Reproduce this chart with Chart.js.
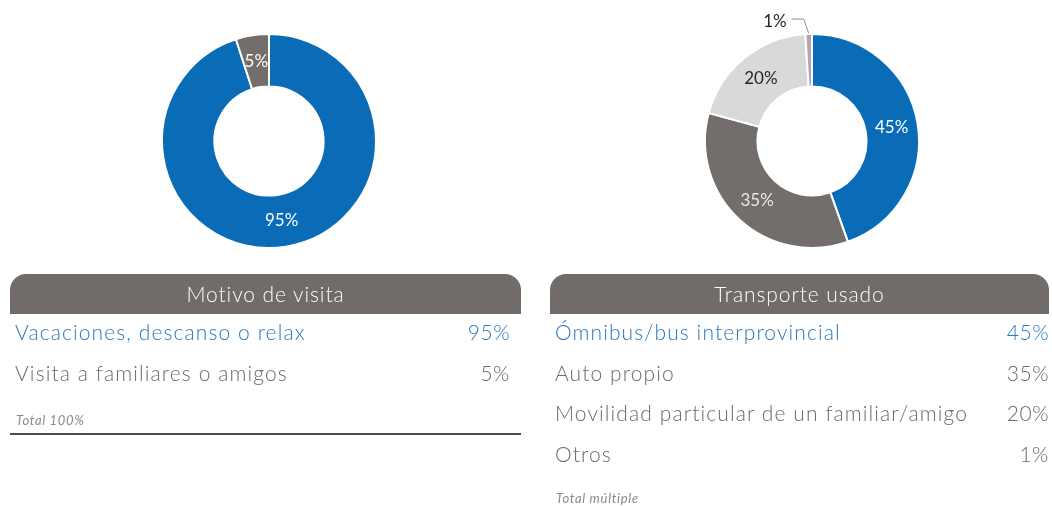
<!DOCTYPE html>
<html lang="es">
<head>
<meta charset="utf-8">
<title>Motivo de visita y transporte usado</title>
<script src="https://cdn.jsdelivr.net/npm/chart.js@4/dist/chart.umd.min.js"></script>
<style>
  html, body { margin: 0; padding: 0; background: #fff; }
  body { width: 1052px; height: 506px; position: relative; overflow: hidden; font-family: Lato, "Open Sans", sans-serif; }
  .donut { position: absolute; top: 0; width: 300px; height: 282px; }
  .panel { position: absolute; top: 274px; }
  .head {
    height: 40px; line-height: 40px; background: #716b69; color: #fff;
    border-radius: 16px 16px 0 0; text-align: center; font-size: 21px; font-weight: 300;
    letter-spacing: 0.9px;
  }
  .row { position: relative; height: 40.5px; line-height: 36px; font-size: 21px; font-weight: 300; color: #6a6a6a; letter-spacing: 1.1px; }
  .row .pct { position: absolute; right: 0; top: 0; letter-spacing: 0.5px; }
  .row.first { color: #2a78bb; }
  .row .name { position: absolute; left: 5px; top: 0; }
  .total { font-size: 13px; font-style: italic; color: #8a8a8a; padding-left: 6px; letter-spacing: 0.7px; }
</style>
</head>
<body>
<div class="donut" style="left:119px"><canvas id="motivoChart"></canvas></div>
<div class="donut" style="left:662px"><canvas id="transporteChart"></canvas></div>

<div class="panel" id="motivoPanel" style="left:10px;width:511px"></div>
<div class="panel" id="transportePanel" style="left:550px;width:499px"></div>

<script>
const motivoTitle = "Motivo de visita";
const motivoLabels = ["Vacaciones, descanso o relax", "Visita a familiares o amigos"];
const motivoValues = [95, 5];
const motivoTotal = "Total 100%";

const transporteTitle = "Transporte usado";
const transporteLabels = ["Ómnibus/bus interprovincial", "Auto propio", "Movilidad particular de un familiar/amigo", "Otros"];
const transporteValues = [45, 35, 20, 1];
const transporteTotal = "Total múltiple";

const BLUE = "#0a6bb6";
const DARK = "#736d6b";
const LIGHT = "#d9d9d9";
const TINY = "#b9a2ad";

// percentage labels on each arc; slices flagged "outside" get a leader line
const arcLabels = {
  id: "arcLabels",
  afterDatasetsDraw(chart, args, opts) {
    const ctx = chart.ctx;
    const ds = chart.data.datasets[0];
    const meta = chart.getDatasetMeta(0);
    ctx.save();
    ctx.font = "17px Lato, sans-serif";
    ctx.textBaseline = "middle";
    meta.data.forEach((arc, i) => {
      const text = ds.data[i] + "%";
      const color = opts.colors[i];
      if (opts.outside && opts.outside[i]) {
        const mid = (arc.startAngle + arc.endAngle) / 2;
        const x0 = arc.x + Math.cos(mid) * (arc.outerRadius + 1);
        const y0 = arc.y + Math.sin(mid) * (arc.outerRadius + 1);
        const ex = x0 - 5, ey = y0 - 14;
        ctx.strokeStyle = "#8c8c8c";
        ctx.lineWidth = 1;
        ctx.beginPath();
        ctx.moveTo(x0, y0);
        ctx.lineTo(ex, ey);
        ctx.lineTo(ex - 12, ey);
        ctx.stroke();
        ctx.fillStyle = color;
        ctx.textAlign = "right";
        ctx.fillText(text, ex - 17, ey + 2);
      } else {
        const p = arc.tooltipPosition();
        ctx.fillStyle = color;
        ctx.textAlign = "center";
        ctx.fillText(text, p.x, p.y);
      }
    });
    ctx.restore();
  }
};

function donut(id, labels, values, colors, labelColors, outside) {
  return new Chart(document.getElementById(id), {
    type: "doughnut",
    data: {
      labels: labels,
      datasets: [{
        data: values,
        backgroundColor: colors,
        borderColor: "#fff",
        borderWidth: 2
      }]
    },
    options: {
      responsive: true,
      maintainAspectRatio: false,
      animation: false,
      radius: 107,
      cutout: "51%",
      layout: { padding: 0 },
      plugins: {
        legend: { display: false },
        tooltip: { enabled: false },
        arcLabels: { colors: labelColors, outside: outside }
      }
    },
    plugins: [arcLabels]
  });
}

donut("motivoChart", motivoLabels, motivoValues, [BLUE, DARK], ["#fff", "#fff"]);
donut("transporteChart", transporteLabels, transporteValues,
  [BLUE, DARK, LIGHT, TINY], ["#fff", "#e8e8e8", "#262626", "#262626"],
  [false, false, false, true]);

// summary tables under each donut
function panel(id, title, labels, values, total, rule, pctRight) {
  const el = document.getElementById(id);
  let html = '<div class="head">' + title + '</div>';
  labels.forEach((l, i) => {
    html += '<div class="row' + (i === 0 ? ' first' : '') + '"><span class="name">' + l +
      '</span><span class="pct" style="right:' + pctRight + 'px">' + values[i] + '%</span></div>';
  });
  html += '<div class="total" style="margin-top:' + (rule ? 17 : 14) + 'px">' + total + '</div>';
  if (rule) html += '<div style="height:2px;background:#4f4f4f;margin-top:5px"></div>';
  el.innerHTML = html;
}

panel("motivoPanel", motivoTitle, motivoLabels, motivoValues, motivoTotal, true, 11);
panel("transportePanel", transporteTitle, transporteLabels, transporteValues, transporteTotal, false, 0);
</script>
</body>
</html>
